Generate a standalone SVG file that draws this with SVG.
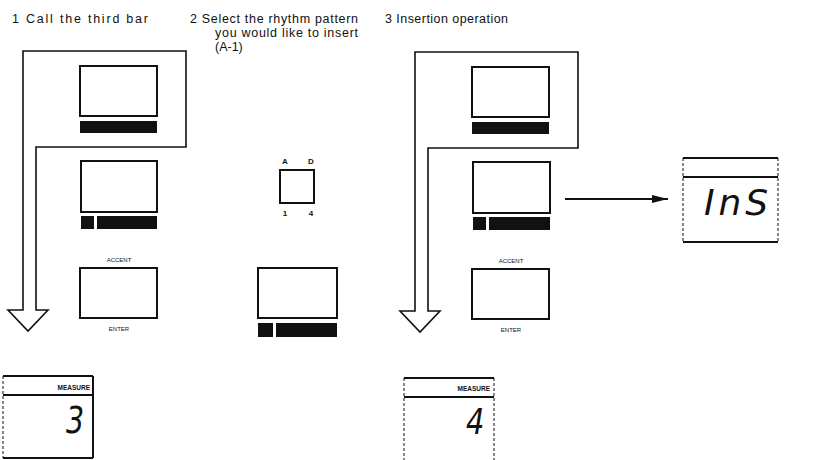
<svg xmlns="http://www.w3.org/2000/svg" width="816" height="460" viewBox="0 0 816 460">
<style>
.h{font-family:"Liberation Sans",Arial,sans-serif;font-size:12.5px;fill:#111}
.s{font-family:"Liberation Sans",Arial,sans-serif;font-size:6px;fill:#111;text-anchor:middle}
.m{font-family:"Liberation Sans",Arial,sans-serif;font-size:6.5px;font-weight:bold;fill:#111;text-anchor:end}
.l{font-family:"Liberation Sans",Arial,sans-serif;font-size:8px;font-weight:bold;fill:#111;text-anchor:middle}
.seg{font-family:"DejaVu Sans",sans-serif;font-style:italic;fill:#111}
.box{fill:#fff;stroke:#111;stroke-width:2}
.bar{fill:#111}
.arr{fill:none;stroke:#111;stroke-width:1.6;stroke-linejoin:miter}
.ln{stroke:#111;stroke-width:2}
.thin{stroke:#111;stroke-width:1;stroke-dasharray:3 2}
</style>
<defs>
<marker id="ah" markerWidth="16" markerHeight="8" refX="16" refY="4" orient="auto" markerUnits="userSpaceOnUse">
<path d="M0,0 L16,4 L0,8 Z" fill="#111"/>
</marker>
</defs>

<g id="titles">
<text class="h" x="12" y="23" textLength="136" lengthAdjust="spacing">1 Call the third bar</text>
<text class="h" x="190" y="23" textLength="168" lengthAdjust="spacing">2 Select the rhythm pattern</text>
<text class="h" x="215" y="37" textLength="143" lengthAdjust="spacing">you would like to insert</text>
<text class="h" x="215" y="51">(A-1)</text>
<text class="h" x="385" y="23" textLength="123" lengthAdjust="spacing">3 Insertion operation</text>
</g>

<g id="connectors">
<path class="arr" d="M23,310 V51 H186 V147 H36 V310 H48 L28,331 L8,310 Z"/>
<path class="arr" d="M415,311 V52 H578 V148 H428 V311 H440 L420,332 L400,311 Z"/>
<line class="ln" x1="565" y1="199" x2="668" y2="199" marker-end="url(#ah)"/>
</g>

<g id="panel1-display1">
<rect class="box" x="80" y="66" width="77" height="50"/>
<rect class="bar" x="80" y="121" width="77" height="12"/>
</g>
<g id="panel1-display2">
<rect class="box" x="81" y="161" width="76" height="51"/>
<rect class="bar" x="81" y="216" width="13" height="13"/>
<rect class="bar" x="97" y="216" width="60" height="13"/>
</g>
<g id="panel1-accent">
<text class="s" x="119" y="262">ACCENT</text>
<rect class="box" x="80" y="268" width="77" height="50"/>
<text class="s" x="119" y="331">ENTER</text>
</g>

<g id="panel2-button">
<text class="l" x="285" y="164">A</text>
<text class="l" x="311" y="164">D</text>
<rect class="box" x="280" y="170" width="34" height="33"/>
<text class="l" x="285" y="216">1</text>
<text class="l" x="311" y="216">4</text>
</g>
<g id="panel2-display">
<rect class="box" x="258" y="268" width="79" height="50"/>
<rect class="bar" x="258" y="323" width="15" height="14"/>
<rect class="bar" x="276" y="323" width="61" height="14"/>
</g>

<g id="panel3-display1">
<rect class="box" x="472" y="67" width="77" height="50"/>
<rect class="bar" x="472" y="122" width="77" height="12"/>
</g>
<g id="panel3-display2">
<rect class="box" x="473" y="162" width="77" height="51"/>
<rect class="bar" x="473" y="217" width="13" height="13"/>
<rect class="bar" x="489" y="217" width="61" height="13"/>
</g>
<g id="panel3-accent">
<text class="s" x="511" y="263">ACCENT</text>
<rect class="box" x="472" y="269" width="77" height="50"/>
<text class="s" x="511" y="332">ENTER</text>
</g>

<g id="ins-display">
<line class="ln" x1="683" y1="158" x2="778" y2="158"/>
<line class="ln" x1="683" y1="177" x2="778" y2="177"/>
<line class="ln" x1="683" y1="242" x2="778" y2="242"/>
<line class="thin" x1="683" y1="158" x2="683" y2="242"/>
<line class="thin" x1="778" y1="158" x2="778" y2="242"/>
<text class="seg" x="704" y="215" font-size="36" textLength="64" lengthAdjust="spacing">InS</text>
</g>

<g id="measure1">
<line class="ln" x1="3" y1="376" x2="93" y2="376"/>
<line class="ln" x1="3" y1="395" x2="93" y2="395"/>
<line class="ln" x1="93" y1="376" x2="93" y2="458"/>
<line class="ln" x1="3" y1="458" x2="93" y2="458"/>
<line class="thin" x1="3" y1="376" x2="3" y2="458"/>
<text class="m" x="90" y="390">MEASURE</text>
<text class="seg" transform="translate(66,433) scale(0.75,1)" font-size="38">3</text>
</g>

<g id="measure2">
<line class="ln" x1="404" y1="378" x2="494" y2="378"/>
<line class="ln" x1="404" y1="397" x2="494" y2="397"/>
<line class="thin" x1="494" y1="378" x2="494" y2="460"/>
<line class="thin" x1="404" y1="378" x2="404" y2="460"/>
<text class="m" x="490" y="391">MEASURE</text>
<text class="seg" transform="translate(466,434) scale(0.8,1)" font-size="36">4</text>
</g>
</svg>
